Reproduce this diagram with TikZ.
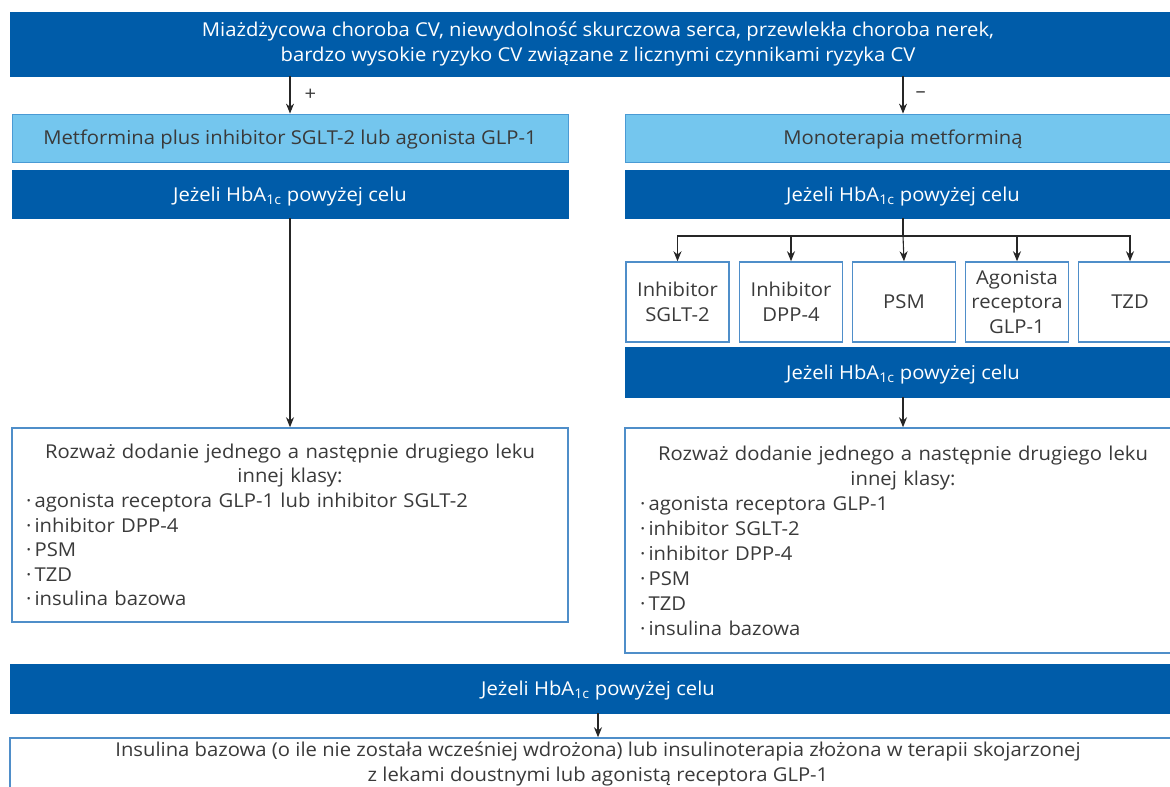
\documentclass[tikz,border=0pt]{standalone}
\usepackage{fontspec}
\setmainfont{Open Sans}[FakeStretch=1.06]
\usetikzlibrary{arrows.meta}
\definecolor{dblue}{HTML}{005CA9}
\definecolor{lblue}{HTML}{74C6EE}
\definecolor{lborder}{HTML}{4A9AD4}
\definecolor{wborder}{HTML}{4F8EC9}
\definecolor{txt}{HTML}{3A3A3A}
\newcommand{\hba}{HbA\textsubscript{1c}}
\begin{document}
\begin{tikzpicture}[x=1pt,y=-1pt,
  font=\fontsize{19.1}{24.6}\selectfont,
  darkbox/.style={fill=dblue, draw=dblue, text=white, inner sep=0pt, align=center},
  hbabox/.style={darkbox, text depth=0pt},
  lightbox/.style={fill=lblue, draw=lborder, line width=0.8pt, text=txt, inner sep=0pt, align=center, text depth=1pt},
  whitebox/.style={fill=white, draw=wborder, line width=1.5pt, text=txt, inner sep=0pt},
  smallbox/.style={whitebox, minimum width=103pt, minimum height=80pt, align=center},
  arr/.style={-{Stealth[length=10pt,width=8pt]}, line width=1.1pt, draw=black!85},
  conn/.style={line width=1.1pt, draw=black!85},
  sign/.style={text=txt, inner sep=0pt}]
\useasboundingbox (0,0) rectangle (1170,787);
\clip (0,0) rectangle (1170,787);

\node[darkbox, minimum width=1176pt, minimum height=64pt] (top) at (598,44)
  {Miażdżycowa choroba CV, niewydolność skurczowa serca, przewlekła choroba nerek,\\
   bardzo wysokie ryzyko CV związane z licznymi czynnikami ryzyka CV};

\node[lightbox, minimum width=556pt, minimum height=48pt] (lightL) at (290,138)
  {Metformina plus inhibitor SGLT-2 lub agonista GLP-1};
\node[lightbox, minimum width=556pt, minimum height=48pt] (lightR) at (903,138)
  {Monoterapia metforminą};

\node[hbabox, minimum width=556pt, minimum height=48pt] (darkL) at (290,194)
  {Jeżeli \hba{} powyżej celu};
\node[hbabox, minimum width=556pt, minimum height=48pt] (darkR) at (903,194)
  {Jeżeli \hba{} powyżej celu};

\node[smallbox] (s1) at (677.5,302) {Inhibitor\\SGLT-2};
\node[smallbox] (s2) at (791,302) {Inhibitor\\DPP-4};
\node[smallbox] (s3) at (904,302) {PSM};
\node[smallbox] (s4) at (1017,302) {Agonista\\receptora\\GLP-1};
\node[smallbox] (s5) at (1130,302) {TZD};

\node[hbabox, minimum width=556pt, minimum height=50pt] (darkR2) at (903,372)
  {Jeżeli \hba{} powyżej celu};

\node[whitebox, minimum width=556pt, minimum height=194pt, text width=528pt] (whiteL) at (290,525)
  {{\centering Rozważ dodanie jednego a następnie drugiego leku\\ innej klasy:\par}
   \raggedright
   ·\,agonista receptora GLP-1 lub inhibitor SGLT-2\\
   ·\,inhibitor DPP-4\\
   ·\,PSM\\
   ·\,TZD\\
   ·\,insulina bazowa\par};

\node[whitebox, minimum width=556pt, minimum height=225pt, text width=526pt] (whiteR) at (903,540.5)
  {\fontsize{19.1}{25}\selectfont
   {\centering Rozważ dodanie jednego a następnie drugiego leku\\ innej klasy:\par}
   \raggedright
   ·\,agonista receptora GLP-1\\
   ·\,inhibitor SGLT-2\\
   ·\,inhibitor DPP-4\\
   ·\,PSM\\
   ·\,TZD\\
   ·\,insulina bazowa\par};

\node[hbabox, minimum width=1176pt, minimum height=49pt] (darkB) at (598,688.5)
  {Jeżeli \hba{} powyżej celu};

\node[whitebox, minimum width=1176pt, minimum height=52pt, align=center] (whiteB) at (598,764)
  {Insulina bazowa (o ile nie została wcześniej wdrożona) lub insulinoterapia złożona w terapii skojarzonej\\
   z lekami doustnymi lub agonistą receptora GLP-1};

% connectors
\draw[arr] (top.south -| lightL.north) -- (lightL.north)
  node[sign, pos=0.5, right=14pt] (plus) {+};
\draw[arr] (top.south -| lightR.north) -- (lightR.north)
  node[sign, pos=0.5, right=12pt] (minus) {–};
\draw[arr] (darkL.south) -- (whiteL.north);
\coordinate (split) at (darkR.south |- 0,236);
\draw[conn] (darkR.south) -- (split);
\draw[arr] (split) -| (s1.north);
\draw[arr] (split) -| (s2.north);
\draw[arr] (split) -- (s3.north);
\draw[arr] (split) -| (s4.north);
\draw[arr] (split) -| (s5.north);
\draw[arr] (darkR2.south) -- (whiteR.north);
\draw[arr] (darkB.south) -- (whiteB.north);
\end{tikzpicture}
\end{document}
